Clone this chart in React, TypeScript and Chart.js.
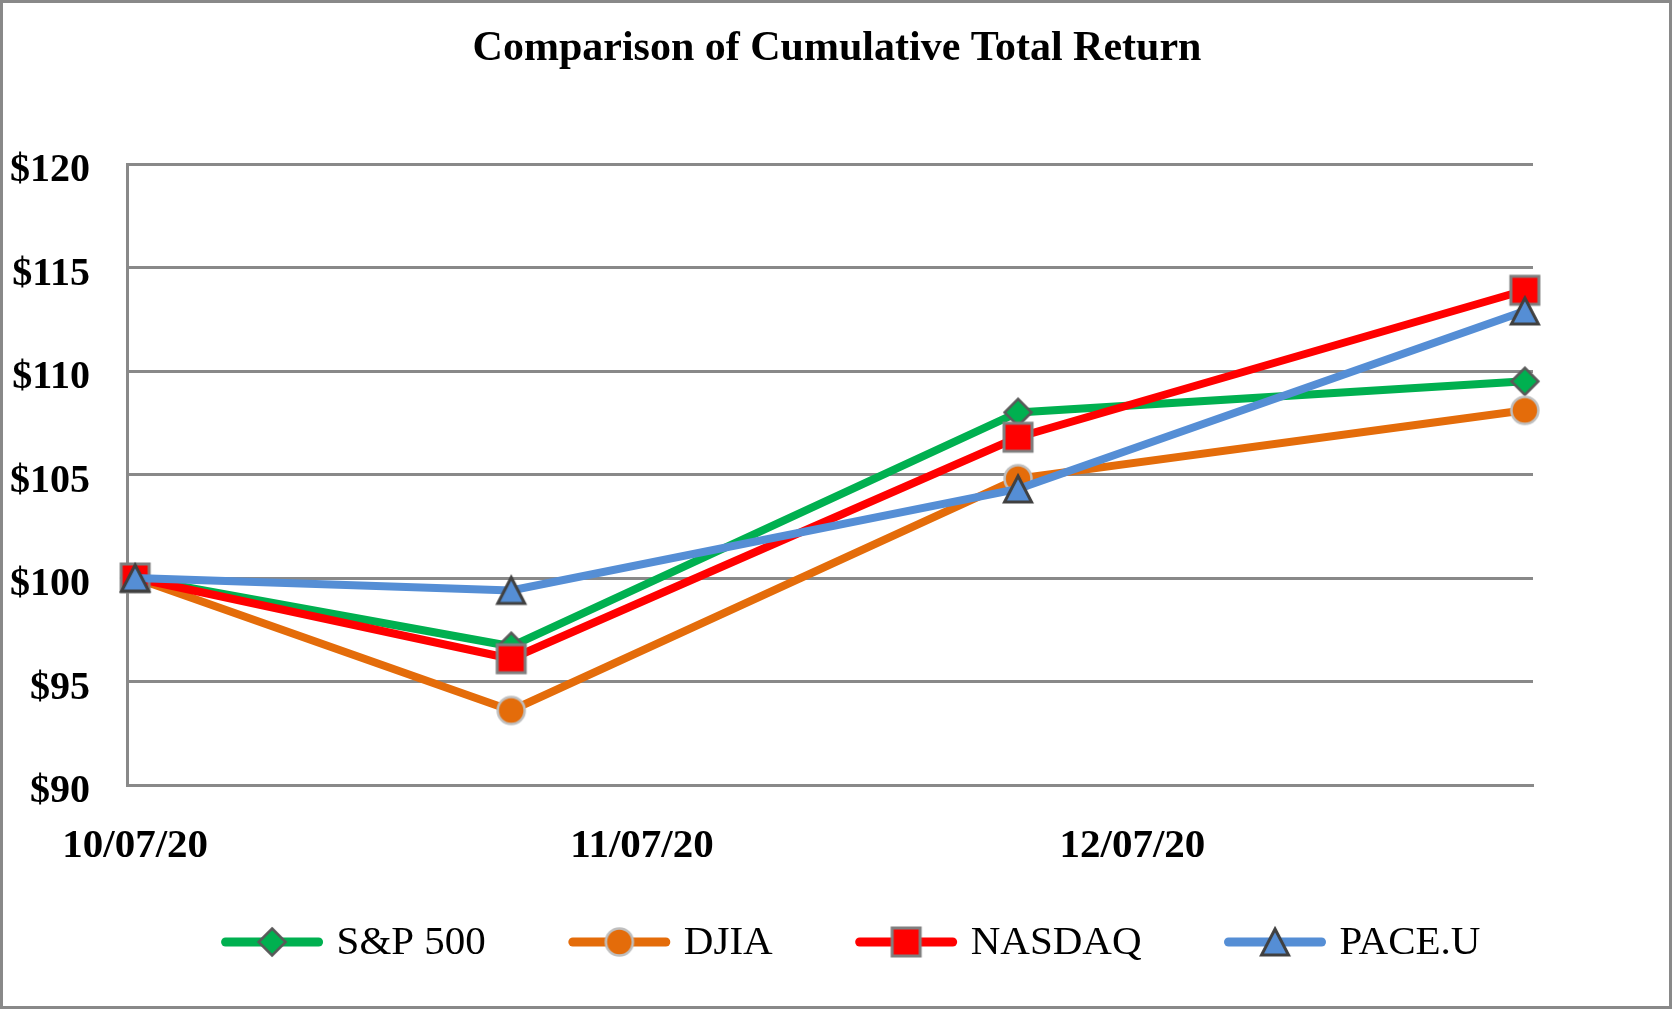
import React, { useEffect, useRef } from 'react';
import { Chart, registerables } from 'chart.js';

Chart.register(...registerables);

// ---- data ----
const chartTitle = 'Comparison of Cumulative Total Return';
const seriesNames = ['S&P 500', 'DJIA', 'NASDAQ', 'PACE.U'];
// days after 10/07/20 : 10/07/20, 10/30/20, 11/30/20, 12/31/20
const dayOffsets = [0, 23, 54, 85];
const sp500 = [100, 96.7, 108.0, 109.5];
const djia = [100, 93.6, 104.8, 108.1];
const nasdaq = [100, 96.1, 106.8, 113.9];
const paceU = [100, 99.4, 104.3, 112.9];
const tickDays = [0, 31, 61];
const tickLabels = ['10/07/20', '11/07/20', '12/07/20'];
const yMin = 90;
const yMax = 120;
const yStep = 5;

// ---- styles ----
const seriesValues = [sp500, djia, nasdaq, paceU];
const lineColors = ['#00B050', '#E46C0A', '#FF0000', '#558ED5'];
const markerKinds = ['diamond', 'circle', 'square', 'triangle'];
const markerBorders = ['#595959', '#BFBFBF', '#7F7F7F', '#404040'];
const FONT = '"Liberation Serif", "Times New Roman", Times, serif';
const GRID = '#898989';

function makeMarker(kind: string, fill: string, stroke: string): HTMLCanvasElement {
  const size = 40;
  const c = document.createElement('canvas');
  c.width = size;
  c.height = size;
  const g = c.getContext('2d')!;
  const m = size / 2;
  g.beginPath();
  g.lineJoin = 'miter';
  if (kind === 'diamond') {
    const h = 13.5;
    g.moveTo(m, m - h);
    g.lineTo(m + h, m);
    g.lineTo(m, m + h);
    g.lineTo(m - h, m);
    g.closePath();
    g.lineWidth = 2.5;
  } else if (kind === 'circle') {
    g.arc(m, m, 13.5, 0, Math.PI * 2);
    g.lineWidth = 2.5;
  } else if (kind === 'square') {
    g.rect(m - 14, m - 14, 28, 28);
    g.lineWidth = 3;
  } else {
    const w = 27, h = 26;
    g.moveTo(m, m - h / 2);
    g.lineTo(m + w / 2, m + h / 2);
    g.lineTo(m - w / 2, m + h / 2);
    g.closePath();
    g.lineWidth = 3;
  }
  g.fillStyle = fill;
  g.fill();
  g.strokeStyle = stroke;
  g.stroke();
  return c;
}

export default function App() {
  const ref = useRef<HTMLCanvasElement>(null);

  useEffect(() => {
    const canvas = ref.current!;
    const markers = markerKinds.map((k, i) => makeMarker(k, lineColors[i], markerBorders[i]));

    const decorPlugin = {
      id: 'decor',
      beforeDraw(chart: any) {
        const ctx = chart.ctx;
        ctx.save();
        ctx.fillStyle = '#ffffff';
        ctx.fillRect(0, 0, chart.width, chart.height);
        ctx.restore();
      },
      afterDraw(chart: any) {
        const ctx = chart.ctx;
        ctx.save();
        // frame
        ctx.strokeStyle = GRID;
        ctx.lineWidth = 3;
        ctx.strokeRect(1.5, 1.5, 1669, 1006);
        // title
        ctx.fillStyle = '#000';
        ctx.font = 'bold 42px ' + FONT;
        ctx.textAlign = 'center';
        ctx.textBaseline = 'alphabetic';
        ctx.fillText(chartTitle, 837, 60);
        // legend
        ctx.font = '41px ' + FONT;
        const lineLen = 101, gapText = 14, gapItem = 83;
        const ds = chart.data.datasets;
        const widths = ds.map((d: any) => lineLen + gapText + ctx.measureText(d.label).width);
        const total = widths.reduce((a: number, b: number) => a + b, 0) + gapItem * (ds.length - 1);
        let x = 851 - total / 2;
        const y = 942;
        ds.forEach((d: any, i: number) => {
          ctx.beginPath();
          ctx.strokeStyle = d.borderColor;
          ctx.lineWidth = 9;
          ctx.lineCap = 'round';
          ctx.moveTo(x + 4, y);
          ctx.lineTo(x + lineLen - 4, y);
          ctx.stroke();
          const mk = markers[i];
          ctx.drawImage(mk, x + lineLen / 2 - mk.width / 2, y - mk.height / 2);
          ctx.fillStyle = '#000';
          ctx.textAlign = 'left';
          ctx.textBaseline = 'middle';
          ctx.fillText(d.label, x + lineLen + gapText, y + 1);
          x += widths[i] + gapItem;
        });
        ctx.restore();
      },
    };

    const datasets = seriesNames.map((name, i) => ({
      label: name,
      data: dayOffsets.map((d, j) => ({ x: d, y: seriesValues[i][j] })),
      borderColor: lineColors[i],
      backgroundColor: lineColors[i],
      borderWidth: 8,
      tension: 0,
      pointStyle: markers[i] as any,
      pointRadius: 15,
      pointHoverRadius: 15,
      clip: false as any,
      order: seriesNames.length - i,
    }));

    const chart = new Chart(canvas, {
      type: 'line',
      data: { datasets },
      options: {
        animation: false,
        responsive: false,
        maintainAspectRatio: false,
        events: [],
        layout: { padding: { top: 164, right: 142, left: 0, bottom: 0 } },
        plugins: {
          legend: { display: false },
          title: { display: false },
          tooltip: { enabled: false },
        },
        scales: {
          x: {
            type: 'linear',
            min: -0.5,
            max: 85.5,
            afterFit: (s: any) => { s.height = 228; },
            afterBuildTicks: (s: any) => { s.ticks = tickDays.map((v) => ({ value: v })); },
            grid: { display: false, drawTicks: false },
            border: { display: true, color: GRID, width: 3 },
            ticks: {
              autoSkip: false,
              maxRotation: 0,
              minRotation: 0,
              padding: 37,
              color: '#000',
              font: { family: FONT, size: 41, weight: 'bold' },
              callback: (v: any) => tickLabels[tickDays.indexOf(Number(v))] ?? '',
            },
          },
          y: {
            min: yMin,
            max: yMax,
            afterFit: (s: any) => { s.width = 127; },
            grid: { color: GRID, lineWidth: 3, drawTicks: false },
            border: { display: true, color: GRID, width: 3 },
            ticks: {
              stepSize: yStep,
              padding: 37,
              labelOffset: 7,
              color: '#000',
              font: { family: FONT, size: 40, weight: 'bold' },
              callback: (v: any) => '$' + v,
            },
          },
        },
      },
      plugins: [decorPlugin],
    });
    return () => chart.destroy();
  }, []);

  return (
    <div style={{ position: 'fixed', left: 0, top: 0, width: 1675, height: 1013, background: '#fff' }}>
      <canvas ref={ref} width={1675} height={1013} style={{ display: 'block', width: 1675, height: 1013 }} />
    </div>
  );
}
